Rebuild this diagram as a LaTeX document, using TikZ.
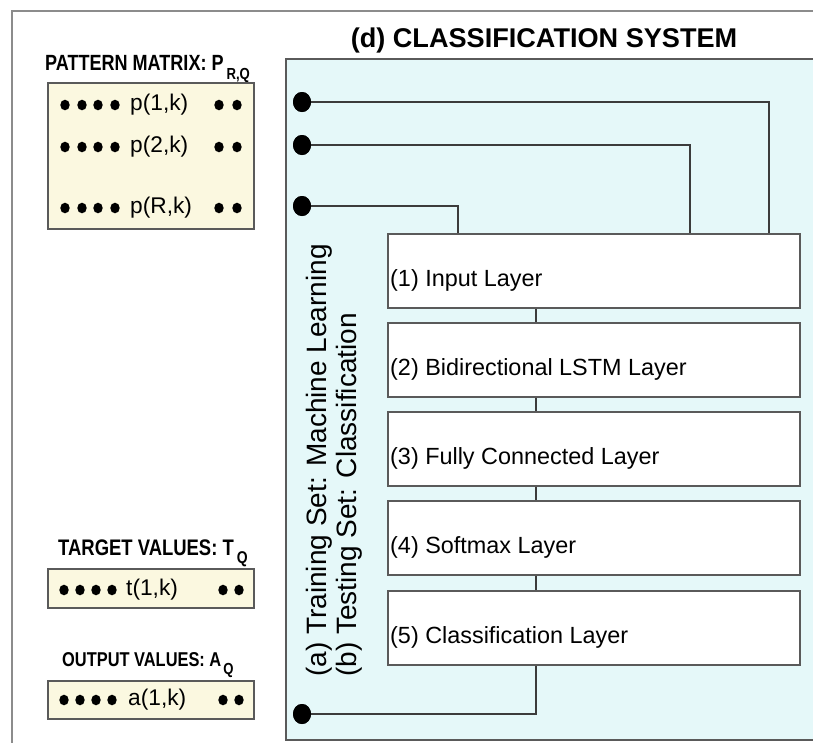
\documentclass[tikz,border=0pt]{standalone}
\usepackage{fontspec}
\setmainfont{Liberation Sans}
\newfontfamily\narrowfont[FakeStretch=0.82]{Liberation Sans}
\usetikzlibrary{shapes.geometric}
\definecolor{panelcyan}{HTML}{E5F8F9}
\definecolor{cream}{HTML}{FBF8E0}
\definecolor{framegray}{HTML}{8C8C8C}
\definecolor{edgegray}{HTML}{5A5A5A}
\definecolor{wiregray}{HTML}{3C3C3C}
\begin{document}
\begin{tikzpicture}[x=1pt,y=-1pt,
  layerbox/.style={draw=edgegray, line width=1.6pt, fill=white, minimum width=412pt, minimum height=74pt, inner sep=0pt, anchor=north west},
  layertext/.style={anchor=west, inner sep=0pt, font=\fontsize{23.4}{26}\selectfont},
  bigdot/.style={ellipse, fill=black, minimum width=18pt, minimum height=20pt, inner sep=0pt},
  wireline/.style={draw=wiregray, line width=1.8pt},
  creambox/.style={draw=edgegray, line width=1.5pt, fill=cream},
  rowtext/.style={anchor=west, inner sep=0pt, font=\fontsize{22.7}{25}\selectfont},
  sidetext/.style={rotate=90, anchor=west, inner sep=0pt, font=\fontsize{28}{30}\selectfont},
  labeltext/.style={anchor=base west, inner sep=0pt}
]
\useasboundingbox (0,0) rectangle (813,742);
% outer frame
\draw[framegray, line width=1.6pt] (12,11) rectangle (1000,900);
% panel
\draw[edgegray, line width=1.5pt, fill=panelcyan] (286,59) rectangle (1000,740);
% title
\node[font=\bfseries\fontsize{27.1}{29}\selectfont, inner sep=0pt] (title) at (544,40) {(d) CLASSIFICATION SYSTEM};

% layer boxes
\node[layerbox] (L1) at (387,233) {};
\node[layerbox] (L2) at (387,322) {};
\node[layerbox] (L3) at (387,411) {};
\node[layerbox] (L4) at (387,500) {};
\node[layerbox] (L5) at (387,590) {};
\node[layertext] (t1) at (390,280) {(1) Input Layer};
\node[layertext] (t2) at (390,369) {(2) Bidirectional LSTM Layer};
\node[layertext] (t3) at (390,458) {(3) Fully Connected Layer};
\node[layertext] (t4) at (390,547) {(4) Softmax Layer};
\node[layertext] (t5) at (390,637) {(5) Classification Layer};

% dots
\node[bigdot] (d1) at (302,102) {};
\node[bigdot] (d2) at (302,145) {};
\node[bigdot] (d3) at (302,206) {};
\node[bigdot] (d4) at (302,714) {};

% connectors
\draw[wireline] (d1.center) -| ([xshift=382pt]L1.north west);
\draw[wireline] (d2.center) -| ([xshift=303pt]L1.north west);
\draw[wireline] (d3.center) -| ([xshift=71pt]L1.north west);
\draw[wireline] ([xshift=149pt]L1.south west) -- ([xshift=149pt]L2.north west);
\draw[wireline] ([xshift=149pt]L2.south west) -- ([xshift=149pt]L3.north west);
\draw[wireline] ([xshift=149pt]L3.south west) -- ([xshift=149pt]L4.north west);
\draw[wireline] ([xshift=149pt]L4.south west) -- ([xshift=149pt]L5.north west);
\draw[wireline] ([xshift=149pt]L5.south west) |- (d4.center);
\node[bigdot] at (d1) {};
\node[bigdot] at (d2) {};
\node[bigdot] at (d3) {};
\node[bigdot] at (d4) {};

% rotated texts
\node[sidetext] (ta) at (319,677) {(a) Training Set: Machine Learning};
\node[sidetext] (tb) at (349,677) {(b) Testing Set: Classification};

% pattern matrix
\node[labeltext, font=\narrowfont\bfseries\fontsize{22}{24}\selectfont] (pm) at (45,70) {PATTERN MATRIX: P\hspace{3pt}\raisebox{-9pt}{\fontsize{16}{16}\selectfont R,Q}};
\draw[creambox] (48,83) rectangle (254,229);
\foreach \yy in {105,147,208}{
  \foreach \xx in {65,82,98,115,219,237}{
    \fill (\xx,\yy) ellipse (4.7pt and 5.3pt);
  }
}
\node[rowtext] (p1) at (130,105) {p(1,k)};
\node[rowtext] (p2) at (130,147) {p(2,k)};
\node[rowtext] (pR) at (130,208) {p(R,k)};

% target values
\node[labeltext, font=\narrowfont\bfseries\fontsize{22.5}{24}\selectfont] (tv) at (58,555) {TARGET VALUES: T\hspace{3pt}\raisebox{-8pt}{\fontsize{17}{17}\selectfont Q}};
\draw[creambox] (48,569) rectangle (254,608);
\foreach \xx in {64,80,96,112,223,239}{
  \fill (\xx,590) ellipse (4.7pt and 5.3pt);
}
\node[rowtext] (tk) at (126,590) {t(1,k)};

% output values
\node[labeltext, font=\narrowfont\bfseries\fontsize{20}{22}\selectfont] (ov) at (62,666) {OUTPUT VALUES: A\hspace{2pt}\raisebox{-8pt}{\fontsize{16}{16}\selectfont Q}};
\draw[creambox] (48,681) rectangle (254,719);
\foreach \xx in {64,80,96,112,223,239}{
  \fill (\xx,700) ellipse (4.7pt and 5.3pt);
}
\node[rowtext] (ak) at (128,700) {a(1,k)};
\end{tikzpicture}
\end{document}
